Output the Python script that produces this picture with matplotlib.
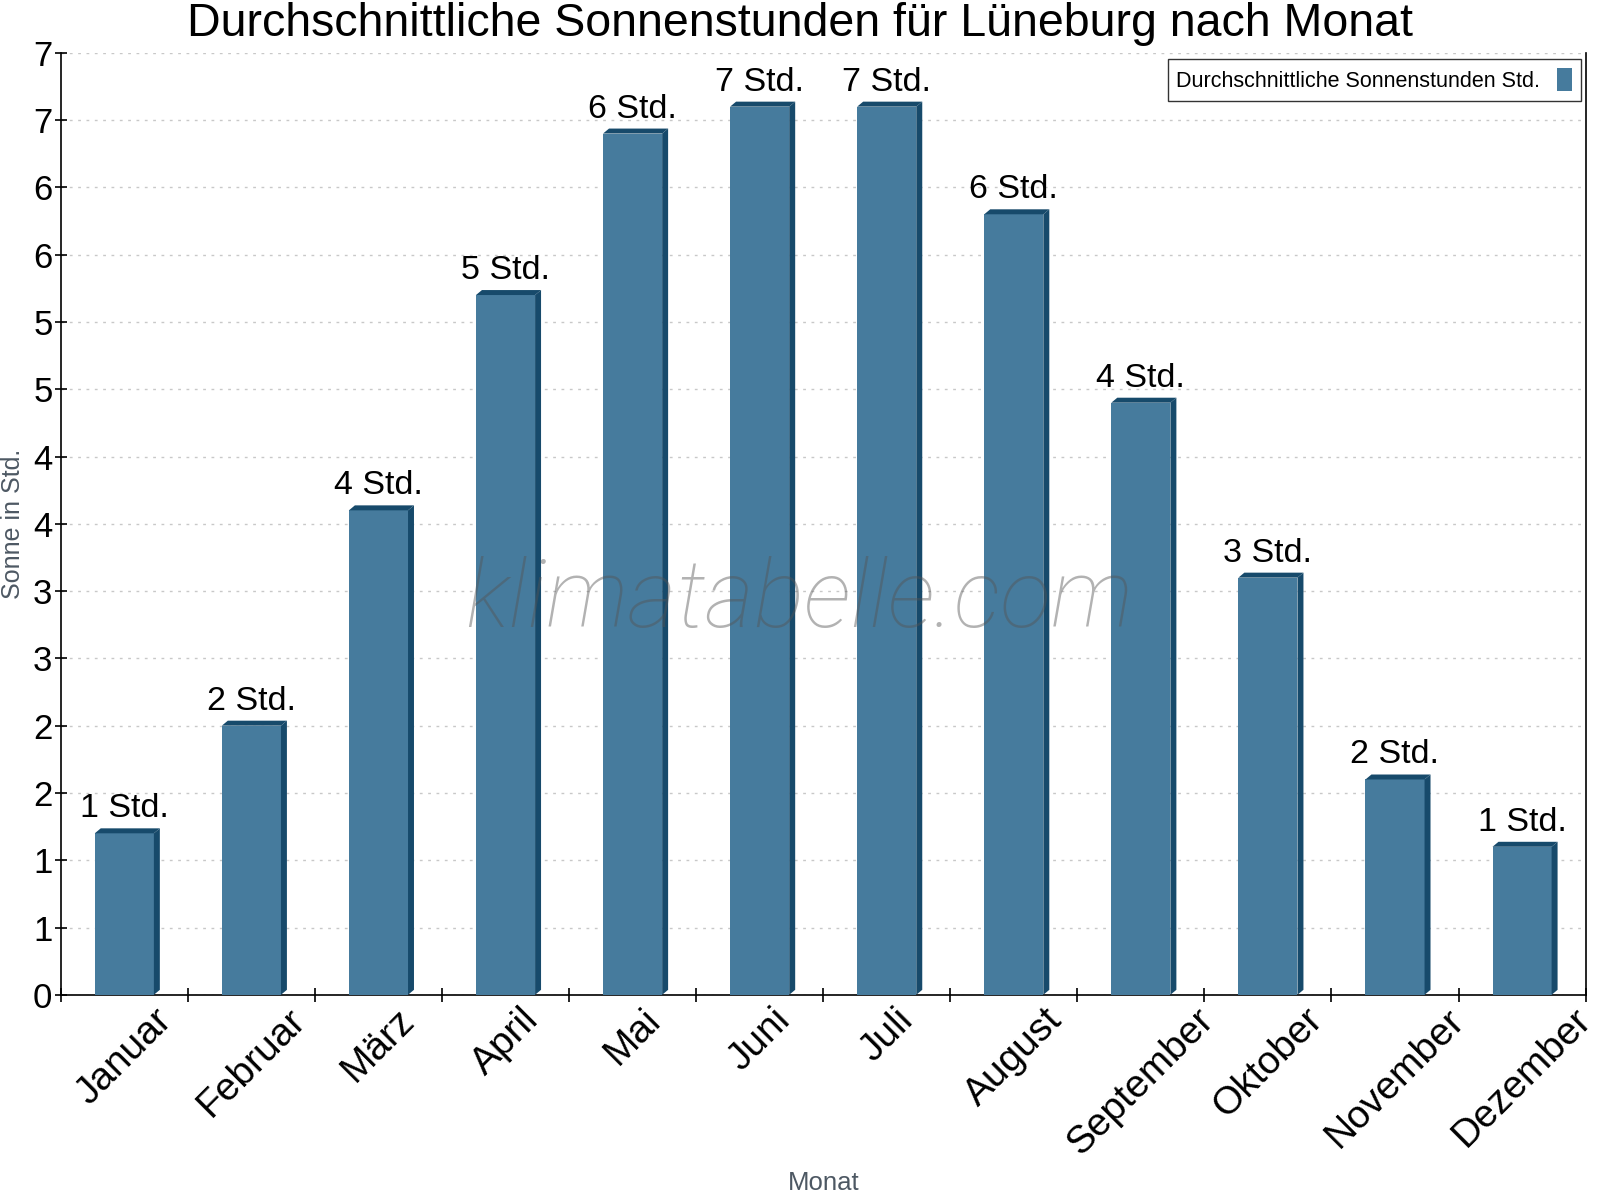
"""
Durchschnittliche Sonnenstunden fuer Lueneburg - Balkendiagramm mit 3D-Effekt
"""
import numpy as np
import matplotlib
matplotlib.use("Agg")
import matplotlib.pyplot as plt
from matplotlib.patches import Polygon
from matplotlib.ticker import FuncFormatter, MultipleLocator

months = ["Januar", "Februar", "März", "April", "Mai", "Juni",
          "Juli", "August", "September", "Oktober", "November", "Dezember"]
sun_hours = [1.2, 2.0, 3.6, 5.2, 6.4, 6.6, 6.6, 5.8, 4.4, 3.1, 1.6, 1.1]
value_labels = ["1 Std.", "2 Std.", "4 Std.", "5 Std.", "6 Std.", "7 Std.",
                "7 Std.", "6 Std.", "4 Std.", "3 Std.", "2 Std.", "1 Std."]

FRONT = "#467b9d"
DARK = "#174a6b"

plt.rcParams["font.family"] = ["Liberation Sans", "DejaVu Sans"]

fig = plt.figure(figsize=(16, 12), dpi=100)
ax = fig.add_axes([0.038, 0.171, 0.953, 0.785])

x = np.arange(len(months))
width = 0.465
dx, dy = 0.047, 0.037

bars = ax.bar(x, sun_hours, width=width, color=FRONT, zorder=3,
              label="Durchschnittliche Sonnenstunden Std.")

# side + top faces for the 3D look
for xi, v in zip(x, sun_hours):
    x0, x1 = xi - width / 2, xi + width / 2
    side = Polygon([(x1, 0), (x1 + dx, dy), (x1 + dx, v + dy), (x1, v)],
                   closed=True, facecolor=DARK, edgecolor="none", zorder=3)
    top = Polygon([(x0, v), (x0 + dx, v + dy), (x1 + dx, v + dy), (x1, v)],
                  closed=True, facecolor=DARK, edgecolor="none", zorder=3)
    ax.add_patch(side)
    ax.add_patch(top)

for xi, v, lab in zip(x, sun_hours, value_labels):
    ax.text(xi, v + dy + 0.03, lab, ha="center", va="bottom",
            fontsize=24.5, color="black", zorder=5)

ax.set_xlim(-0.5, len(months) - 0.5)
ax.set_ylim(0, 7)

ax.yaxis.set_major_locator(MultipleLocator(0.5))
ax.yaxis.set_major_formatter(FuncFormatter(lambda v, p: f"{int(np.floor(v + 0.5))}"))
ax.tick_params(axis="y", labelsize=25, direction="inout", length=8, width=1.2, pad=2)

ax.set_xticks(x)
ax.set_xticklabels(months, rotation=45, ha="center", fontsize=28)
ax.set_xticks(np.arange(-0.5, len(months)), minor=True)
ax.tick_params(axis="x", which="major", length=0, pad=5)
ax.tick_params(axis="x", which="minor", direction="inout", length=10, width=1.2)

ax.grid(axis="y", linestyle=(0, (2, 4)), color="#c8c8c8", linewidth=1, zorder=0)
ax.set_axisbelow(True)

for side_name in ["left", "bottom", "right"]:
    ax.spines[side_name].set_linewidth(1.2)
ax.spines["top"].set_visible(False)

ax.set_ylabel("Sonne in Std.", fontsize=18, color="#4d5863")
ax.yaxis.set_label_coords(-0.0235, 0.5)
ax.set_xlabel("Monat", fontsize=18.5, color="#4d5863", va="top")
ax.xaxis.set_label_coords(0.5, -0.187)

fig.suptitle("Durchschnittliche Sonnenstunden für Lüneburg nach Monat",
             fontsize=33.5, y=0.998, va="top")

ax.text(0.484, 0.418, "klimatabelle.com", transform=ax.transAxes,
        ha="center", va="center", fontsize=68, style="italic",
        family="Roboto", fontweight="light", color="#555555", alpha=0.45, zorder=6)

leg = ax.legend(loc="upper right", bbox_to_anchor=(0.997, 0.993), fontsize=15.5,
                frameon=True, fancybox=False, markerfirst=False,
                handlelength=0.7, handleheight=1.3, borderpad=0.4,
                handletextpad=0.8, borderaxespad=0)
leg.get_frame().set_edgecolor("black")
leg.get_frame().set_linewidth(1)

fig.savefig("out.png", dpi=100)
